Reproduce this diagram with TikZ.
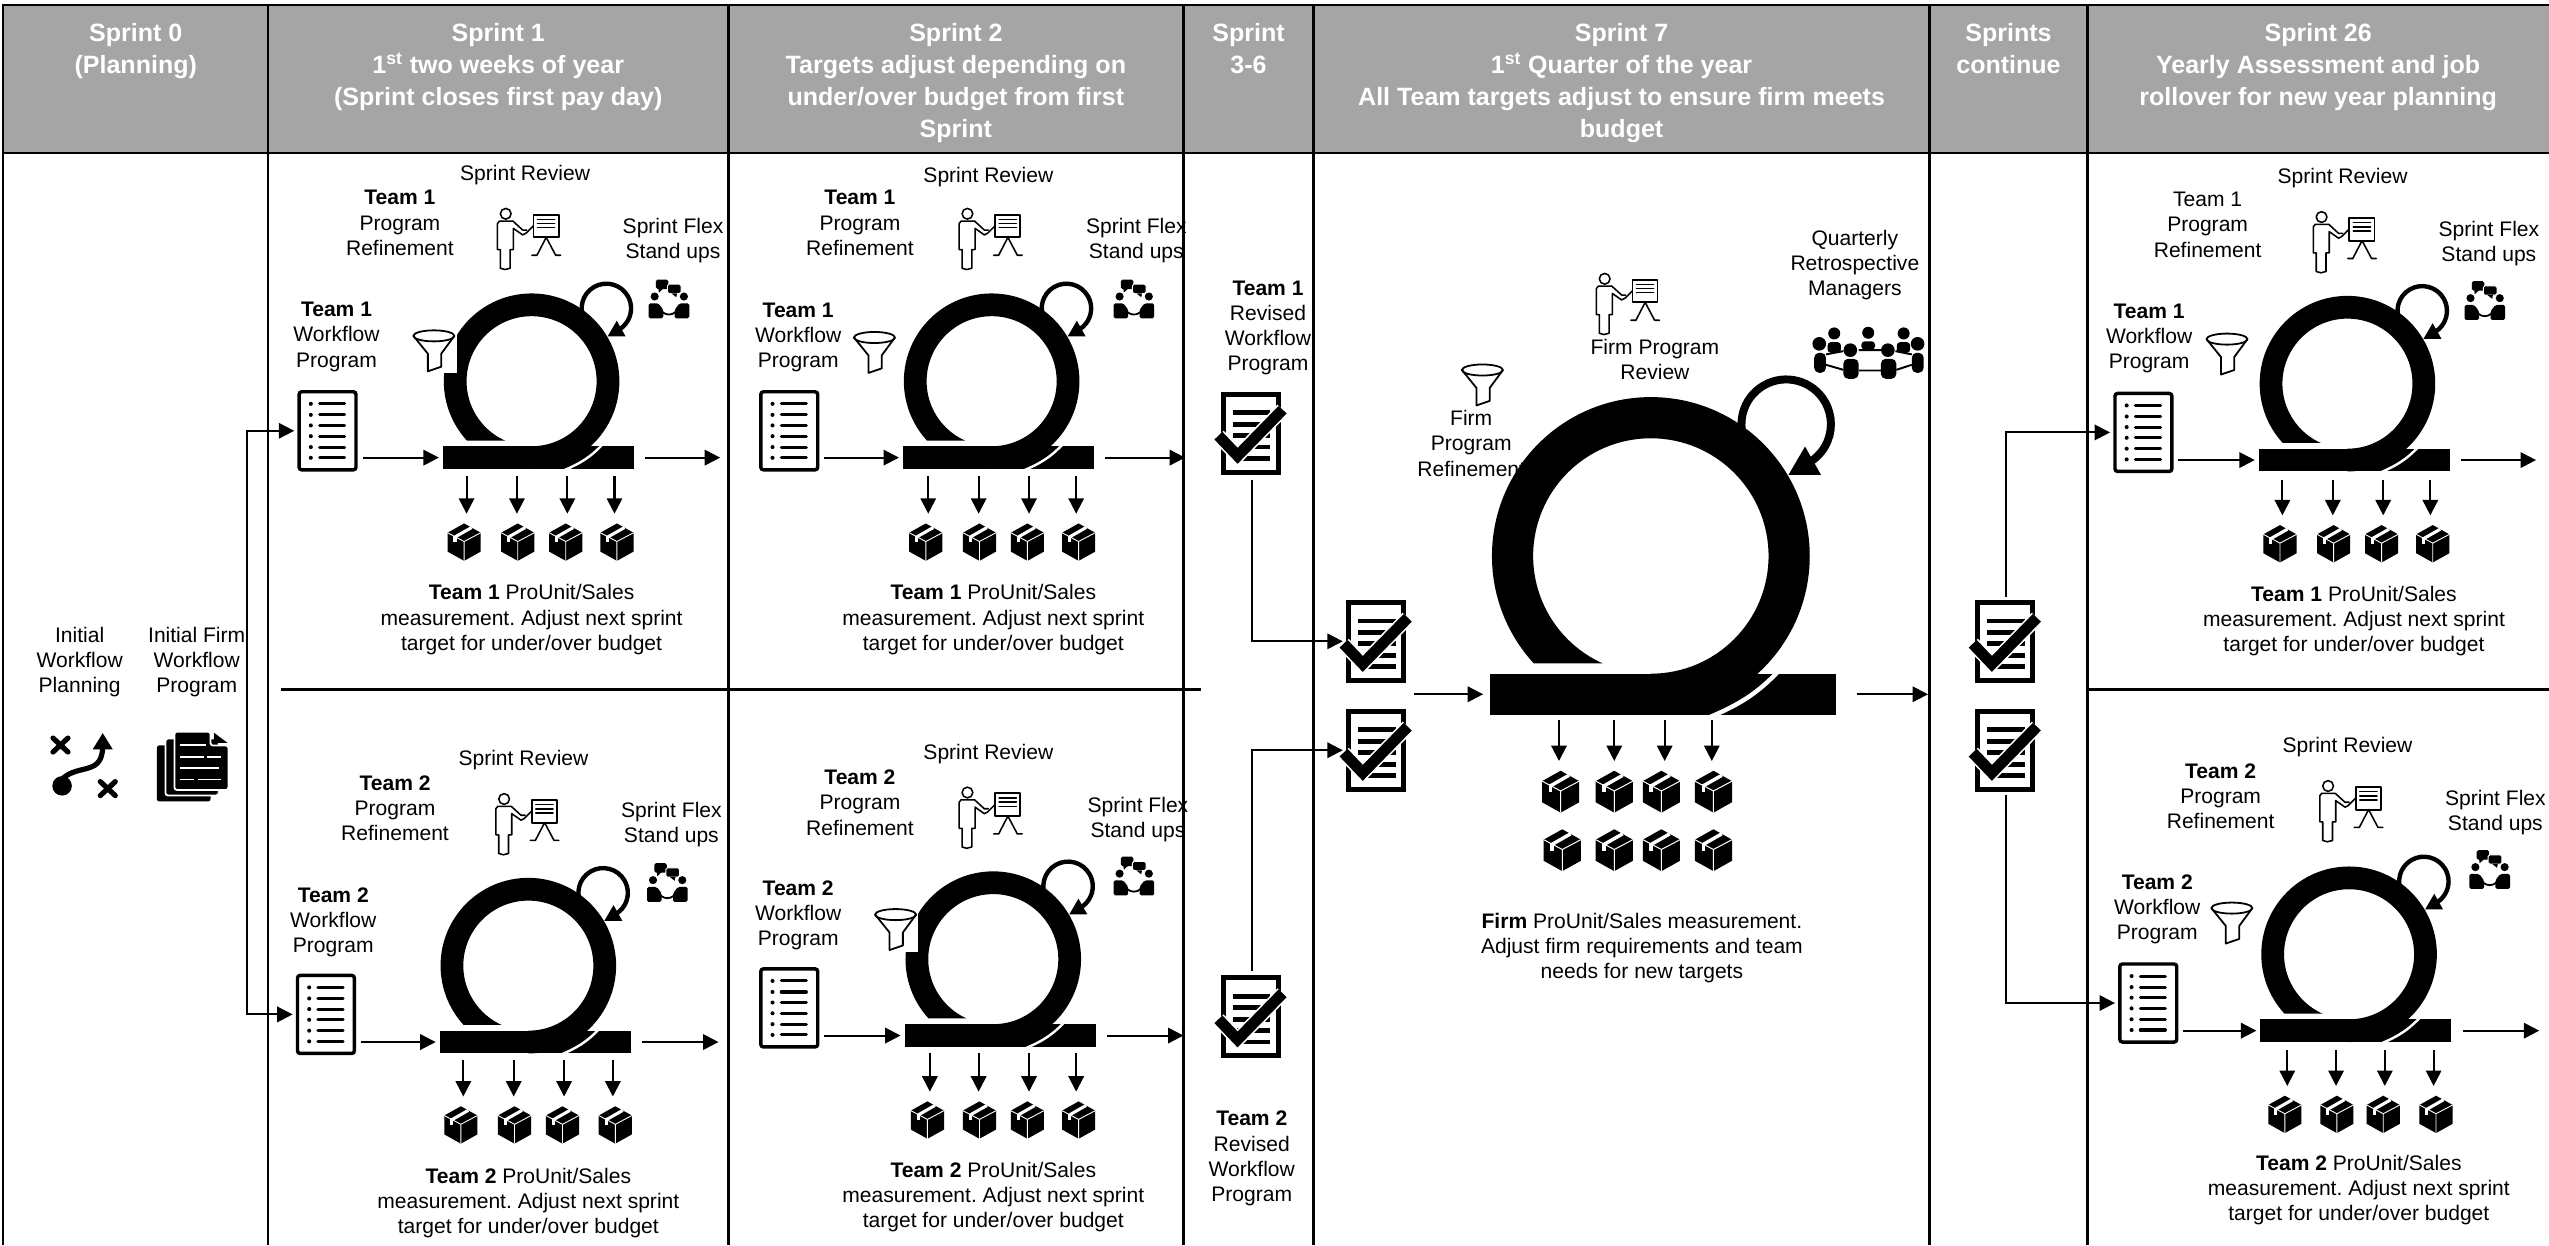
\documentclass[tikz,border=0pt]{standalone}
\usepackage{fontspec}
\setmainfont{Liberation Sans}
\usetikzlibrary{arrows.meta,calc}
\frenchspacing
\definecolor{hdrgrey}{HTML}{A5A5A5}
\tikzset{
  grid line/.style={line width=1.5pt,black},
  hdrcell/.style={draw=black,line width=1.5pt,fill=hdrgrey,anchor=north west,inner sep=0,outer sep=0,minimum height=91pt},
  hdrtxt/.style={text=white,align=center,anchor=north,inner sep=0,yshift=-3pt,font=\fontsize{15.4}{19.7}\selectfont\bfseries},
  txt/.style={align=center,inner sep=0,yshift=-1.7pt,font=\fontsize{12.95}{15.5}\selectfont},
  arr/.style={-{Triangle[length=9.5pt,width=9.5pt]},line width=1.25pt,black},
  fromdoc/.style={arr,shorten <=3pt},
  todoc/.style={arr,shorten >=2pt},
  slot/.style={inner sep=0,outer sep=0,anchor=north west},
  pkgslot/.style={inner sep=0,outer sep=6pt},
  thin icon/.style={line width=0.95pt,line join=round,line cap=round,black},
}
% ---- icons -------------------------------------------------------
\newcommand{\icPresenter}[2]{\begin{scope}[shift={(#1,#2)},thin icon]
  \draw (5.1,3.5) circle (3.3);
  \draw (9.5,8) -- (1.2,8) -- (0,9.5) -- (0,25.5) -- (1.8,25.5) -- (1.8,37) -- (4.6,37.8) -- (7.8,37) -- (7.8,25.5) -- (9.8,25.5) -- (9.8,12.5) -- (15.5,16.5) -- (17.5,15.5) -- (22,11);
  \draw (9.5,8) -- (15.5,13.5) -- (18,13.5);
  \draw[line width=1.15pt] (22.2,4) rectangle (37.6,18);
  \draw (24.6,7) -- (35.2,7) (24.6,9.5) -- (35.2,9.5) (24.6,12) -- (35.2,12);
  \draw (30,18) -- (24.3,29) -- (21.2,29) (30,18) -- (35.8,29) -- (38.8,29);
\end{scope}}
\newcommand{\icFunnel}[2]{\begin{scope}[shift={(#1,#2)},thin icon]
  \fill[white] (0,0) rectangle (27,27.5);
  \draw[line width=1.1pt] (12.9,4.6) ellipse (12.6 and 3.4);
  \draw[line width=1.1pt] (0.3,4.6) -- (9.2,15.6) -- (9.2,26.4) -- (17.4,23.6) -- (17.4,15.6) -- (25.5,4.6);
\end{scope}}
\newcommand{\icTalk}[2]{\begin{scope}[shift={(#1,#2)}]
  \fill (3.7,10.4) circle (2.5) (21.7,10.4) circle (2.5);
  \fill[rounded corners=1pt] (0,23.8) -- (0,14.6) -- (6,14.6) -- (9,18.5) -- (9,23.8) -- cycle;
  \fill[rounded corners=1pt] (25,23.8) -- (25,14.6) -- (19,14.6) -- (16,18.5) -- (16,23.8) -- cycle;
  \draw[line width=1.1pt] (8.5,20) .. controls (11,22) and (14,22) .. (16.5,20);
  \fill[rounded corners=1pt] (4.5,0) rectangle (12.2,5.8);
  \fill (6,5.5) -- (9,5.5) -- (6.3,8) -- cycle;
  \draw[white,line width=.6pt,fill=black,rounded corners=1pt] (11.6,2.8) rectangle (20,8.6);
  \fill (14,8.4) -- (17.5,8.4) -- (17,10.8) -- cycle;
\end{scope}}
\newcommand{\icList}[3]{\node[slot,minimum width=37pt,minimum height=50pt] (#1) at (#2,#3) {};
  \begin{scope}[shift={(#2,#3)}]
  \draw[line width=2.1pt,rounded corners=1.6pt] (1,1) rectangle (36,49);
  \foreach \yy in {8.4,15.2,21.7,28.3,35,41.6}{
    \fill (8.2,\yy) circle (1.25);
    \draw[line width=1.9pt,line cap=round] (13.6,\yy) -- (29,\yy);}
\end{scope}}
\newcommand{\icCheck}[3]{\node[slot,minimum width=38pt,minimum height=51pt] (#1) at (#2,#3) {};
  \begin{scope}[shift={(#2,#3)}]
  \draw[line width=3.1pt] (1.5,1.5) rectangle (35.5,49.5);
  \foreach \yy in {13,20,27,34,41}{\fill (7.4,\yy-1.5) rectangle (30.5,\yy+1.5);}
  \draw[white,line width=8.8pt,line join=miter] (-1.5,27) -- (10.3,39.4) -- (38,11);
  \draw[black,line width=6.8pt,line join=miter] (-1.5,27) -- (10.3,39.4) -- (38,11);
\end{scope}}
\newcommand{\icPkg}[4]{\node[pkgslot,minimum width=#4*20.5pt,minimum height=#4*23pt] (#1) at (#2,#3) {};
  \begin{scope}[shift={(#2,#3)},scale=#4]
  \fill[line join=round] (0,-11.5) -- (10.2,-5.8) -- (10.2,5.8) -- (0,11.5) -- (-10.2,5.8) -- (-10.2,-5.8) -- cycle;
  \draw[white,line width=#4*.55pt] (-10.2,-5.8) -- (0,-.4) -- (10.2,-5.8) (0,-.4) -- (0,11.5);
  \draw[white,line width=#4*1.9pt] (-5.6,-3.2) -- (4.6,-9);
  \draw[white,line width=#4*1.9pt] (-5.6,-4) -- (-5.6,.2);
\end{scope}}
\newcommand{\icLoop}[4]{%
  \begin{scope}[shift={(#2,#3)},scale=#4]
  \draw[line width=#4*2.7pt] (46,-44.8) ++(150:15.2) arc[start angle=150,end angle=425,radius=15.2];
  \fill (46.8,-27.6) -- (52.4,-37.2) -- (57.8,-27.6) -- cycle;
  \fill (-54.5,40) rectangle (63,54);
  \draw[white,line width=#4*1.5pt] (44,38.5) .. controls (36,47) and (30,50.5) .. (19.5,55);
  \begin{scope}
    \clip (-70,-70) rectangle (0,36.5) (0,-70) rectangle (70,60);
    \fill[even odd rule] (0,0) circle (54) (0,0) circle (40);
  \end{scope}
  \coordinate (#1-in) at (-57,47);
  \coordinate (#1-out) at (70,47);
  \end{scope}}
\newcommand{\outs}[7]{% id, y start, box y, four arrow x
  \coordinate (#1-s1) at (#4,#2); \coordinate (#1-s2) at (#5,#2);
  \coordinate (#1-s3) at (#6,#2); \coordinate (#1-s4) at (#7,#2);
  \icPkg{#1-b1}{#4-1.5}{#3}{1}\icPkg{#1-b2}{#5+.5}{#3}{1}\icPkg{#1-b3}{#6-1}{#3}{1}\icPkg{#1-b4}{#7+1.5}{#3}{1}
  \foreach \kk in {1,2,3,4}{\draw[arr] (#1-s\kk) -- (#1-b\kk.north -| #1-s\kk);}}
\begin{document}
\begin{tikzpicture}[x=1pt,y=-1pt]
\useasboundingbox (0,0) rectangle (1568,766);
\fill[white] (0,0) rectangle (1568,766);
\coordinate (pagebot) at (0,766);
% ---- header cells --------------------------------------------------
\node[hdrcell,minimum width=163pt] (h0) at (2,3) {};
\node[hdrcell,minimum width=283pt] (h1) at (165,3) {};
\node[hdrcell,minimum width=280pt] (h2) at (448,3) {};
\node[hdrcell,minimum width=80pt] (h3) at (728,3) {};
\node[hdrcell,minimum width=379pt] (h4) at (808,3) {};
\node[hdrcell,minimum width=97pt] (h5) at (1187,3) {};
\node[hdrcell,minimum width=285pt] (h6) at (1284,3) {};
\node[hdrtxt] (h0t) at (83.5,11) {Sprint 0\\(Planning)};
\node[hdrtxt] (h1t) at (306.5,11) {Sprint 1\\1\textsuperscript{st} two weeks of year\\(Sprint closes first pay day)};
\node[hdrtxt] (h2t) at (588,11) {Sprint 2\\Targets adjust depending on\\under/over budget from first\\Sprint};
\node[hdrtxt] (h3t) at (768,11) {Sprint\\3-6};
\node[hdrtxt] (h4t) at (997.5,11) {Sprint 7\\1\textsuperscript{st} Quarter of the year\\All Team targets adjust to ensure firm meets\\budget};
\node[hdrtxt] (h5t) at (1235.5,11) {Sprints\\continue};
\node[hdrtxt] (h6t) at (1426,11) {Sprint 26\\Yearly Assessment and job\\rollover for new year planning};
% ---- body grid -----------------------------------------------------
\foreach \cc in {h0,h1,h2,h3,h4,h5,h6}{\draw[grid line] (\cc.south west) -- (\cc.south west |- pagebot);}
\coordinate (midA) at (173,424); \coordinate (midB) at (739,424);
\coordinate (midC) at (1284,424); \coordinate (midD) at (1568,424);
\draw[grid line] (midA) -- (midB);
\draw[grid line] (midC) -- (midD);
% ---- Sprint 0 ------------------------------------------------------
\node[txt] (s0a) at (49,405.5) {Initial\\Workflow\\Planning};
\node[txt] (s0b) at (121,405.5) {Initial Firm\\Workflow\\Program};
\begin{scope}[shift={(30,451)}]
  \draw[line width=3.2pt,line cap=round] (2.6,3) -- (11.8,11.6) (11.8,3) -- (2.6,11.6);
  \draw[line width=3.2pt,line cap=round] (31.7,29.8) -- (40.9,38.4) (40.9,29.8) -- (31.7,38.4);
  \fill (8.2,32.4) circle (6);
  \draw[line width=3.2pt] (9,27.5) .. controls (19,19) and (33,26) .. (33.2,8);
  \fill (33.2,0) -- (39.4,10) -- (27,10) -- cycle;
\end{scope}
\begin{scope}[shift={(96.5,450)}]
  \fill[rounded corners=1.5pt] (0,8.5) rectangle (33,43);
  \draw[white,line width=1.1pt,fill=black,rounded corners=1.5pt] (5.3,4.3) rectangle (38,39.3);
  \draw[white,line width=1.1pt,fill=black,rounded corners=1.5pt] (10.8,.1) -- (33,.1) -- (33,8.6) -- (44,8.6) -- (44,35.9) -- (10.8,35.9) -- cycle;
  \fill (35,.6) -- (43.5,7) -- (35,7) -- cycle;
  \draw[white,line width=1.1pt] (14.4,8.2) -- (30.4,8.2) (14.4,15.5) -- (28.7,15.5) (30.7,15.5) -- (39.5,15.5) (14.4,22.5) -- (38.5,22.5) (14.4,29.5) -- (23,29.5) (25,29.5) -- (39.5,29.5);
\end{scope}
% ---- Sprint 1, Team 1 ----------------------------------------------
\node[txt] (a1) at (323,106) {Sprint Review};
\node[txt] (a2) at (246,135.5) {\textbf{Team 1}\\Program\\Refinement};
\node[txt] (a3) at (414,146.5) {Sprint Flex\\Stand ups};
\node[txt] (a4) at (207,205.5) {\textbf{Team 1}\\Workflow\\Program};
\icPresenter{306}{128}
\icTalk{399}{172}
\icLoop{la}{327}{234.5}{1}
\icFunnel{254}{202}
\icList{da}{183}{240}
\outs{oa}{293}{333.5}{287}{318}{349}{378}
\node[txt] (a5) at (327,379.5) {\textbf{Team 1} ProUnit/Sales\\measurement. Adjust next sprint\\target for under/over budget};
\coordinate (ea) at (443,281);
\draw[fromdoc] (da.east |- la-in) -- (la-in);
\draw[arr] (la-out) -- (la-out -| ea);
% ---- Sprint 2, Team 1 ----------------------------------------------
\node[txt] (b1) at (608,107) {Sprint Review};
\node[txt] (b2) at (529,135.5) {\textbf{Team 1}\\Program\\Refinement};
\node[txt] (b3) at (699,146.5) {Sprint Flex\\Stand ups};
\node[txt] (b4) at (491,206) {\textbf{Team 1}\\Workflow\\Program};
\icPresenter{590}{128}
\icTalk{685}{172}
\icLoop{lb}{610}{234.5}{1}
\icFunnel{525}{203}
\icList{db}{467}{240}
\outs{ob}{293}{333.5}{571}{602}{633}{662}
\node[txt] (b5) at (611,379.5) {\textbf{Team 1} ProUnit/Sales\\measurement. Adjust next sprint\\target for under/over budget};
\coordinate (eb) at (729,281);
\draw[fromdoc] (db.east |- lb-in) -- (lb-in);
\draw[arr] (lb-out) -- (lb-out -| eb);
% ---- Sprint 1, Team 2 ----------------------------------------------
\node[txt] (c1) at (322,466) {Sprint Review};
\node[txt] (c2) at (243,495.5) {\textbf{Team 2}\\Program\\Refinement};
\node[txt] (c3) at (413,505.5) {Sprint Flex\\Stand ups};
\node[txt] (c4) at (205,565.5) {\textbf{Team 2}\\Workflow\\Program};
\icPresenter{305}{488}
\icTalk{398}{531}
\icLoop{lc}{325}{594}{1}
\icList{dc}{182}{599}
\outs{oc}{652}{692}{285}{316}{347}{377}
\node[txt] (c5) at (325,738.5) {\textbf{Team 2} ProUnit/Sales\\measurement. Adjust next sprint\\target for under/over budget};
\coordinate (ec) at (442,639.5);
\draw[fromdoc] (dc.east |- lc-in) -- (lc-in);
\draw[arr] (lc-out) -- (lc-out -| ec);
% ---- Sprint 2, Team 2 ----------------------------------------------
\node[txt] (e1) at (608,462) {Sprint Review};
\node[txt] (e2) at (529,492) {\textbf{Team 2}\\Program\\Refinement};
\node[txt] (e3) at (700,502.5) {Sprint Flex\\Stand ups};
\node[txt] (e4) at (491,561.5) {\textbf{Team 2}\\Workflow\\Program};
\icPresenter{590}{484}
\icTalk{685}{527}
\icLoop{le}{611}{590}{1}
\icFunnel{538}{558}
\icList{de}{467}{595}
\outs{oe}{648}{689}{572}{602}{633}{662}
\node[txt] (e5) at (611,734.5) {\textbf{Team 2} ProUnit/Sales\\measurement. Adjust next sprint\\target for under/over budget};
\coordinate (ee) at (728,636);
\draw[fromdoc] (de.east |- le-in) -- (le-in);
\draw[arr] (le-out) -- (le-out -| ee);
% ---- initial bus ---------------------------------------------------
\coordinate (bus) at (152,445);
\draw[todoc] (bus) |- (da.west);
\draw[todoc] (bus) |- (dc.west);
% ---- Sprint 3-6 ----------------------------------------------------
\node[txt] (f1) at (780,200) {\textbf{Team 1}\\Revised\\Workflow\\Program};
\node[txt] (f2) at (770,711) {\textbf{Team 2}\\Revised\\Workflow\\Program};
\icCheck{ka}{751}{241}
\icCheck{kb}{751}{600}
\icCheck{kc}{828}{369}
\icCheck{kd}{828}{436}
\draw[arr,shorten <=3pt,shorten >=2pt] (ka.south) |- (kc.west);
\draw[arr,shorten <=3pt,shorten >=2pt] (kb.north) |- (kd.west);
% ---- Sprint 7 ------------------------------------------------------
\node[txt] (g1) at (1018,219.5) {Firm Program\\Review};
\node[txt] (g2) at (905,271) {Firm\\Program\\Refinement};
\node[txt] (g3) at (1141,161.5) {Quarterly\\Retrospective\\Managers};
\icPresenter{982}{168}
\icLoop{lg}{1015.5}{342}{1.81}
\icFunnel{899}{223}
\begin{scope}[shift={(1115,201)}]
  \fill (13.3,4.1) circle (3.7) (34.2,3.7) circle (3.7) (56,4.1) circle (3.7);
  \fill[rounded corners=2pt] (9.2,9.5) rectangle (17.4,16) (30,9) rectangle (38.4,14) (51.8,9.5) rectangle (60,16);
  \draw[line width=1.2pt] (8.2,17) -- (18.9,15) (28.3,14.4) -- (42,14.4) (51,15) -- (61,17);
  \draw[line width=1.2pt] (8.2,23.4) -- (18.9,26.5) (28.3,26.9) -- (42,26.9) (51.5,26.5) -- (61,23.4);
  \fill (4.1,10.5) circle (4.2) (64.6,10.5) circle (4.2) (23.2,14.4) circle (4.2) (46.3,14.4) circle (4.2);
  \fill[rounded corners=3pt] (1,16) rectangle (8.2,28.3) (18.9,19.7) rectangle (28.3,32) (42,19.7) rectangle (51.5,32) (61,16) rectangle (68.3,28.3);
\end{scope}
\icPkg{gb1}{960}{487}{1.12}\icPkg{gb2}{993}{487}{1.12}\icPkg{gb3}{1022}{487}{1.12}\icPkg{gb4}{1054}{487}{1.12}
\icPkg{gb5}{961}{523}{1.12}\icPkg{gb6}{993}{523}{1.12}\icPkg{gb7}{1022}{523}{1.12}\icPkg{gb8}{1054}{523}{1.12}
\coordinate (gs1) at (959,443); \coordinate (gs2) at (993,443); \coordinate (gs3) at (1024,443); \coordinate (gs4) at (1053,443);
\draw[arr] (gs1) -- (gb1.north -| gs1);
\draw[arr] (gs2) -- (gb2.north -| gs2);
\draw[arr] (gs3) -- (gb3.north -| gs3);
\draw[arr] (gs4) -- (gb4.north -| gs4);
\node[txt] (g4) at (1010,581.5) {\textbf{Firm} ProUnit/Sales measurement.\\Adjust firm requirements and team\\needs for new targets};
\coordinate (gin) at (870,428);
\coordinate (gend) at (1186,427);
\draw[arr] (gin |- lg-in) -- (lg-in);
\draw[arr] (lg-out) -- (lg-out -| gend);
% ---- Sprints continue ----------------------------------------------
\icCheck{ma}{1215}{369}
\icCheck{mb}{1215}{436}
% ---- Sprint 26, Team 1 ---------------------------------------------
\node[txt] (p1) at (1441,108) {Sprint Review};
\node[txt] (p2) at (1358,136.5) {Team 1\\Program\\Refinement};
\node[txt] (p3) at (1531,148) {Sprint Flex\\Stand ups};
\node[txt] (p4) at (1322,206.5) {\textbf{Team 1}\\Workflow\\Program};
\icPresenter{1423}{130}
\icTalk{1516}{173}
\icLoop{lp}{1444}{236}{1}
\icFunnel{1357}{204}
\icList{dp}{1300}{241}
\outs{op}{295}{334.5}{1404}{1435}{1466}{1495}
\node[txt] (p5) at (1448,380.5) {\textbf{Team 1} ProUnit/Sales\\measurement. Adjust next sprint\\target for under/over budget};
\coordinate (ep) at (1560,283);
\draw[fromdoc] (dp.east |- lp-in) -- (lp-in);
\draw[arr] (lp-out) -- (lp-out -| ep);
% ---- Sprint 26, Team 2 ---------------------------------------------
\node[txt] (q1) at (1444,458) {Sprint Review};
\node[txt] (q2) at (1366,488) {\textbf{Team 2}\\Program\\Refinement};
\node[txt] (q3) at (1535,498) {Sprint Flex\\Stand ups};
\node[txt] (q4) at (1327,557.5) {\textbf{Team 2}\\Workflow\\Program};
\icPresenter{1427}{480}
\icTalk{1519}{523}
\icLoop{lq}{1445}{587}{1}
\icFunnel{1360}{554}
\icList{dq}{1303}{592}
\outs{oq}{646}{685.5}{1407}{1437}{1467}{1497}
\node[txt] (q5) at (1451,730.5) {\textbf{Team 2} ProUnit/Sales\\measurement. Adjust next sprint\\target for under/over budget};
\coordinate (eq) at (1562,632);
\draw[fromdoc] (dq.east |- lq-in) -- (lq-in);
\draw[arr] (lq-out) -- (lq-out -| eq);
\draw[arr,shorten <=2pt,shorten >=2pt] (ma.north) |- (dp.west);
\draw[arr,shorten <=2pt,shorten >=2pt] (mb.south) |- (dq.west);
\end{tikzpicture}
\end{document}
